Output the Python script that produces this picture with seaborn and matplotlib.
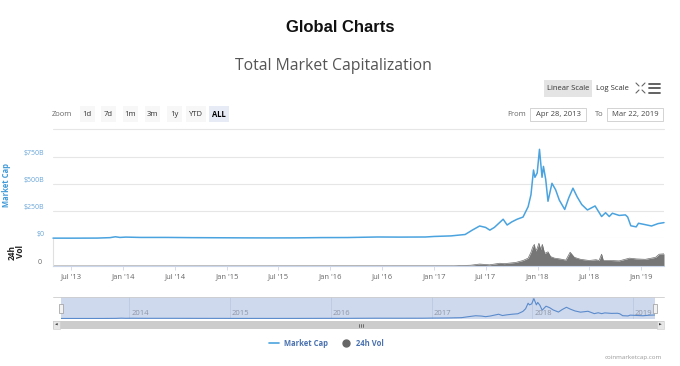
import pandas as pd
import matplotlib.pyplot as plt
import matplotlib.dates as mdates
from matplotlib.patches import Rectangle
from matplotlib.lines import Line2D
import seaborn as sns

# ========== data (billions USD) ==========
mc_dates = ['2013-04-28', '2013-07-01', '2013-10-01', '2013-11-15', '2013-12-04',
            '2013-12-20', '2014-01-10', '2014-03-01', '2014-06-01', '2014-09-01',
            '2014-12-01', '2015-03-01', '2015-06-01', '2015-09-01', '2015-12-01',
            '2016-03-01', '2016-06-15', '2016-09-01', '2016-12-01', '2017-01-01',
            '2017-03-01', '2017-04-20', '2017-05-15', '2017-06-10', '2017-07-01',
            '2017-07-16', '2017-08-01', '2017-09-01', '2017-09-15', '2017-10-01',
            '2017-10-20', '2017-11-10', '2017-11-28', '2017-12-08', '2017-12-17',
            '2017-12-22', '2017-12-30', '2018-01-07', '2018-01-16', '2018-01-21',
            '2018-01-29', '2018-02-06', '2018-02-20', '2018-03-05', '2018-03-18',
            '2018-04-06', '2018-04-20', '2018-05-05', '2018-05-20', '2018-06-05',
            '2018-06-25', '2018-07-22', '2018-08-14', '2018-08-28', '2018-09-10',
            '2018-09-21', '2018-10-15', '2018-11-06', '2018-11-14', '2018-11-25',
            '2018-12-14', '2018-12-22', '2019-01-10', '2019-02-06', '2019-03-01',
            '2019-03-22']
mc_values = [1.5, 1.2, 2.0, 6, 14,
             8, 11, 8, 8, 6,
             5, 4, 3.5, 4, 6.5,
             7, 12, 11, 12, 17,
             22, 35, 75, 113, 100,
             75, 100, 175, 122, 150,
             175, 195, 290, 400, 627,
             560, 600, 817, 560, 660,
             540, 340, 505, 445, 350,
             265, 370, 460, 380, 310,
             260, 297, 200, 235, 200,
             230, 210, 215, 195, 115,
             105, 138, 128, 113, 135,
             144]

vol_dates = ['2013-04-28', '2017-03-15', '2017-05-10', '2017-06-10', '2017-07-15',
             '2017-08-20', '2017-09-05', '2017-10-15', '2017-11-10', '2017-11-28',
             '2017-12-08', '2017-12-14', '2017-12-20', '2017-12-24', '2017-12-30',
             '2018-01-05', '2018-01-08', '2018-01-12', '2018-01-17', '2018-01-25',
             '2018-02-06', '2018-02-15', '2018-03-01', '2018-03-20', '2018-04-10',
             '2018-04-25', '2018-05-10', '2018-06-01', '2018-07-01', '2018-07-25',
             '2018-08-05', '2018-08-14', '2018-08-20', '2018-09-15', '2018-10-15',
             '2018-11-20', '2018-12-15', '2019-01-15', '2019-02-20', '2019-03-05',
             '2019-03-22']
vol_values = [0.05, 0.5, 2, 5, 3,
              7, 6, 9, 14, 20,
              35, 48, 55, 38, 45,
              58, 50, 42, 55, 32,
              36, 24, 20, 18, 15,
              35, 22, 17, 14, 16,
              14, 30, 14, 14, 13,
              20, 18, 17, 22, 30,
              31]

mc_ticks = [0, 250, 500, 750]
mc_tick_labels = ['$0', '$250B', '$500B', '$750B']
nav_years = [2014, 2015, 2016, 2017, 2018, 2019]
zoom_buttons = ['1d', '7d', '1m', '3m', '1y', 'YTD', 'ALL']
date_from = 'Apr 28, 2013'
date_to = 'Mar 22, 2019'

mc_dates = pd.to_datetime(mc_dates)
vol_dates = pd.to_datetime(vol_dates)
start, end = pd.Timestamp('2013-04-28'), pd.Timestamp('2019-03-22')

# ========== layout helpers (pixel -> figure fraction) ==========
W, H = 680, 366
def fx(px):
    return px / W
def fy(py):
    return 1 - py / H

LINE = '#4aa3df'
LABEL_BLUE = '#6aa6d8'
GRAY = '#666666'

sns.set_theme(style='white')
plt.rcParams['font.family'] = ['Open Sans', 'DejaVu Sans']

fig = plt.figure(figsize=(6.8, 3.66), dpi=100)

# ========== titles ==========
fig.text(fx(340), fy(28), 'Global Charts', ha='center', va='center', fontsize=12,
         fontweight='bold', family=['Liberation Sans', 'DejaVu Sans'], color='#111111')
fig.text(fx(333), fy(66), 'Total Market Capitalization', ha='center', va='center',
         fontsize=11.3, color='#555555')

# ========== scale buttons / icons ==========
fig.add_artist(Rectangle((fx(544), fy(97)), 48 / W, 17 / H, transform=fig.transFigure,
                         fc='#e4e4e4', ec='none'))
fig.text(fx(568), fy(88.5), 'Linear Scale', ha='center', va='center', fontsize=5.5, color='#333333')
fig.text(fx(612), fy(88.5), 'Log Scale', ha='center', va='center', fontsize=5.5, color='#333333')
for (x0, y0, x1, y1) in [(636, 83, 639, 86), (645, 83, 642, 86), (636, 93, 639, 90), (645, 93, 642, 90)]:
    fig.add_artist(Line2D([fx(x0), fx(x1)], [fy(y0), fy(y1)], transform=fig.transFigure,
                          color='#666666', lw=0.8))
for yy in [83.5, 88, 92.5]:
    fig.add_artist(Line2D([fx(649), fx(660)], [fy(yy), fy(yy)], transform=fig.transFigure,
                          color='#555555', lw=1.3))

# ========== zoom row ==========
fig.text(fx(62), fy(114.5), 'Zoom', ha='center', va='center', fontsize=5.5, color=GRAY)
btn_x = [87, 108, 130, 152, 174, 196, 219]
for lab, bx in zip(zoom_buttons, btn_x):
    bw = 20 if len(lab) == 3 else 15
    bg = '#e6ebf5' if lab == 'ALL' else '#f7f7f7'
    fig.add_artist(Rectangle((fx(bx - bw / 2), fy(122)), bw / W, 16 / H,
                             transform=fig.transFigure, fc=bg, ec='none'))
    fig.text(fx(bx), fy(114.5), lab, ha='center', va='center', fontsize=5.5,
             color='#000000' if lab == 'ALL' else '#333333',
             fontweight='bold' if lab == 'ALL' else 'normal')

fig.text(fx(517), fy(114.5), 'From', ha='center', va='center', fontsize=5.5, color=GRAY)
fig.text(fx(599), fy(114.5), 'To', ha='center', va='center', fontsize=5.5, color=GRAY)
for (bx0, bx1, txt) in [(530, 586, date_from), (607, 663, date_to)]:
    fig.add_artist(Rectangle((fx(bx0), fy(121)), (bx1 - bx0) / W, 13 / H,
                             transform=fig.transFigure, fc='white', ec='#cccccc', lw=0.6))
    fig.text(fx((bx0 + bx1) / 2), fy(114.5), txt, ha='center', va='center',
             fontsize=5.5, color='#444444')

fig.add_artist(Line2D([fx(53), fx(664)], [fy(128.5), fy(128.5)], transform=fig.transFigure,
                      color='#e6e6e6', lw=0.8))

# ========== market cap panel ==========
ax_mc = fig.add_axes([fx(53), fy(238.3), fx(664) - fx(53), (238.3 - 143) / H])
sns.lineplot(x=mc_dates, y=mc_values, ax=ax_mc, color=LINE, linewidth=1.1)
for ln in ax_mc.lines:
    ln.set_clip_on(False)
ax_mc.set_xlim(start, end)
ax_mc.set_ylim(0, 875)
ax_mc.set_yticks(mc_ticks)
ax_mc.set_yticklabels(mc_tick_labels, color=LABEL_BLUE, fontsize=5)
for lab in ax_mc.get_yticklabels():
    lab.set_verticalalignment('bottom')
ax_mc.tick_params(axis='y', length=0, pad=6)
ax_mc.set_xticks([])
ax_mc.grid(axis='y', color='#e6e6e6', lw=0.8)
for s in ax_mc.spines.values():
    s.set_visible(False)
ax_mc.set_xlabel('')
ax_mc.set_ylabel('')
ax_mc.patch.set_alpha(0)

fig.text(fx(7), fy(185), 'Market Cap', rotation=90, ha='center', va='center',
         fontsize=5.5, fontweight='bold', color='#3f9ad8')

# ========== volume panel ==========
ax_vol = fig.add_axes([fx(53), fy(266), fx(664) - fx(53), 27.5 / H])
sns.lineplot(x=vol_dates, y=vol_values, ax=ax_vol, color='#6e6e6e', linewidth=0.5)
ax_vol.fill_between(vol_dates, vol_values, color='#767676', lw=0)
ax_vol.set_xlim(start, end)
ax_vol.set_ylim(0, 70)
ax_vol.set_yticks([0])
ax_vol.set_yticklabels(['0'], color=GRAY, fontsize=5)
for lab in ax_vol.get_yticklabels():
    lab.set_verticalalignment('bottom')
ax_vol.tick_params(axis='y', length=0, pad=8)
ax_vol.xaxis.set_major_locator(mdates.MonthLocator(bymonth=[1, 7]))
ax_vol.xaxis.set_major_formatter(mdates.DateFormatter("%b '%y"))
ax_vol.tick_params(axis='x', length=3, width=0.6, color='#ccd6eb', labelsize=5.5,
                   labelcolor=GRAY, pad=2.5, bottom=True)
ax_vol.grid(False)
ax_vol.spines['top'].set_visible(False)
ax_vol.spines['right'].set_visible(False)
ax_vol.spines['bottom'].set_color('#ccd6eb')
ax_vol.spines['bottom'].set_linewidth(0.8)
ax_vol.spines['left'].set_color('#e0e0e0')
ax_vol.spines['left'].set_linewidth(0.8)
ax_vol.set_xlabel('')
ax_vol.set_ylabel('')
ax_vol.patch.set_alpha(0)

fig.text(fx(16), fy(252), '24h\nVol', rotation=90, ha='center', va='center',
         fontsize=6, fontweight='bold', color='#222222', linespacing=0.95)

# ========== navigator ==========
fig.add_artist(Line2D([fx(53), fx(664)], [fy(297.3), fy(297.3)], transform=fig.transFigure,
                      color='#cccccc', lw=0.6))
ax_nav = fig.add_axes([fx(60.7), fy(318.5), (655 - 60.7) / W, 21.2 / H], facecolor='#cfd9ed')
for yr in nav_years:
    d = pd.Timestamp(f'{yr}-01-01')
    ax_nav.axvline(d, color='#b9c5de', lw=0.5)
    ax_nav.annotate(str(yr), xy=(d, 0), xycoords=('data', 'axes fraction'),
                    xytext=(1.5, 0.8), textcoords='offset points', ha='left', va='bottom',
                    fontsize=5.5, color='#8d96a8')
sns.lineplot(x=mc_dates, y=mc_values, ax=ax_nav, color='#5a8bcc', linewidth=0.8)
ax_nav.set_xlim(start, end)
ax_nav.set_ylim(0, 870)
ax_nav.set_xticks([])
ax_nav.set_yticks([])
ax_nav.set_xlabel('')
ax_nav.set_ylabel('')
for s in ax_nav.spines.values():
    s.set_visible(False)

for hx in [58.7, 653]:
    fig.add_artist(Rectangle((fx(hx), fy(313)), 4 / W, 9 / H, transform=fig.transFigure,
                             fc='#f2f2f2', ec='#999999', lw=0.5))

# scrollbar
fig.add_artist(Rectangle((fx(53), fy(329)), 611 / W, 8 / H, transform=fig.transFigure,
                         fc='#cccccc', ec='none'))
for bx in [53, 657]:
    fig.add_artist(Rectangle((fx(bx), fy(329)), 7 / W, 8 / H, transform=fig.transFigure,
                             fc='#e6e6e6', ec='#cccccc', lw=0.4))
fig.text(fx(56.5), fy(325), '◀', ha='center', va='center', fontsize=2.5, color='#333333',
         family='DejaVu Sans')
fig.text(fx(660.5), fy(325), '▶', ha='center', va='center', fontsize=2.5, color='#333333',
         family='DejaVu Sans')
for gx in [358.5, 360.5, 362.5]:
    fig.add_artist(Line2D([fx(gx), fx(gx)], [fy(323.5), fy(326.5)], transform=fig.transFigure,
                          color='#444444', lw=0.5))

# ========== legend ==========
handles = [Line2D([], [], color=LINE, lw=1.2),
           Line2D([], [], marker='o', ls='', color='#666666', markersize=5)]
fig.legend(handles=handles, labels=['Market Cap', '24h Vol'], loc='center',
           bbox_to_anchor=(fx(326), fy(343)), ncol=2, frameon=False,
           prop={'weight': 'bold', 'size': 5.5}, labelcolor='#4a72b0',
           handlelength=1.4, handletextpad=0.6, columnspacing=1.6)

fig.text(fx(662), fy(357), 'coinmarketcap.com', ha='right', va='center',
         fontsize=4.5, color='#999999')

fig.savefig('out.png', dpi=100)
